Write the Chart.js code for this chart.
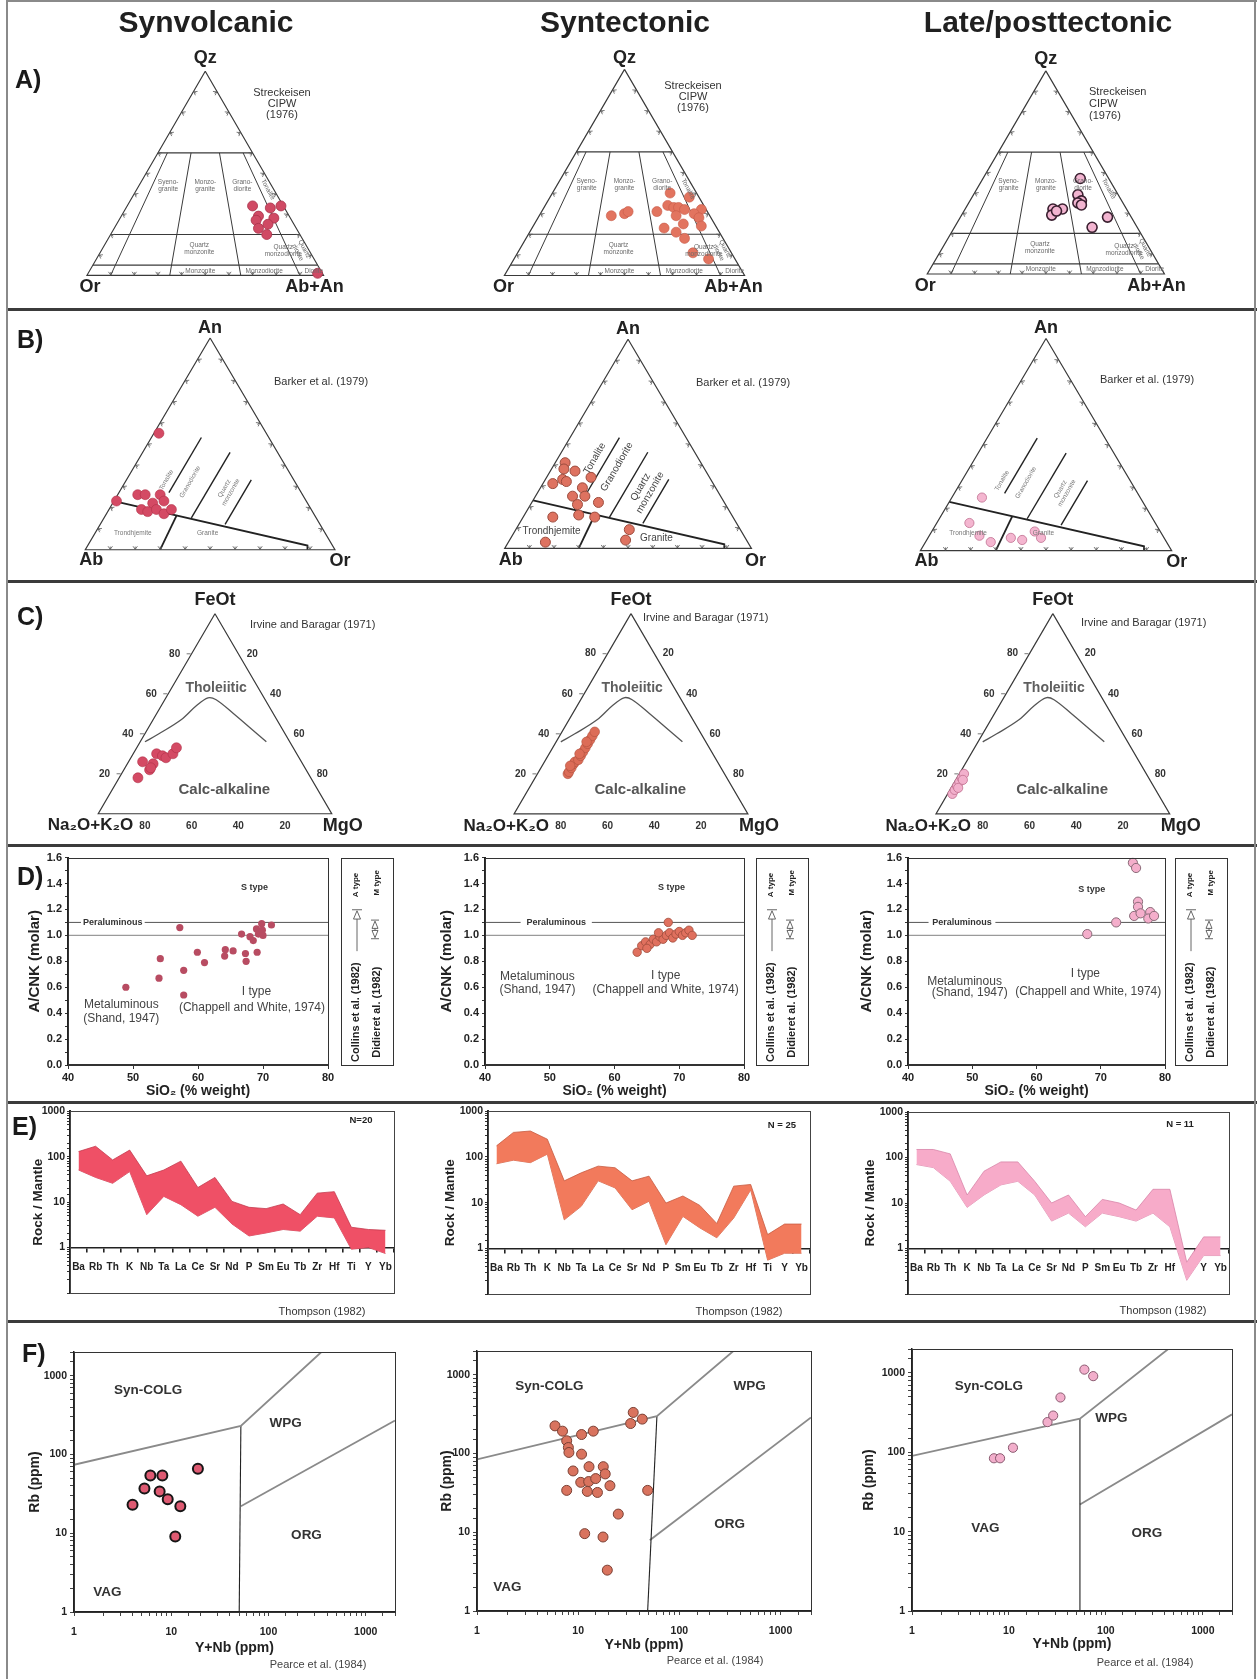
<!DOCTYPE html>
<html>
<head>
<meta charset="utf-8">
<title>Granitoid geochemistry by emplacement stage</title>
<script src="https://cdn.jsdelivr.net/npm/chart.js@4.4.1/dist/chart.umd.min.js"></script>
<style>
  html, body { margin: 0; padding: 0; background: #fff; }
  #page { position: relative; width: 1257px; height: 1679px; overflow: hidden; background: #fff;
          font-family: "Liberation Sans", Arial, Helvetica, sans-serif; color: #1e1e1e; }
  #page canvas { position: absolute; }
  .title { position: absolute; top: 7px; line-height: 30px; font-size: 30px; font-weight: bold;
           transform: translateX(-50%); white-space: nowrap; color: #202020; }
  .rowlab { position: absolute; line-height: 25px; font-size: 25px; font-weight: bold; color: #1a1a1a; }
  .rule { position: absolute; background: #3b3b3b; }
</style>
</head>
<body>
<div id="page"></div>
<script>
const FONT = '"Liberation Sans", Arial, Helvetica, sans-serif';
const SQ3 = Math.sqrt(3) / 2;

/* ================= sample data ================= */
// Streckeisen QAP (CIPW norm): [Qz, Or, Ab+An] in %
const qapSynvolcanic = [[34,13,53],[33,6,61],[34,1,65],[29,13,58],[28,7,65],[27,15,58],[25,11,64],[23,16,61],[20,14,66],[1,2,97]];
const qapSyntectonic = [[40,11,49],[38,4,58],[29,41,30],[30,35,35],[31,33,36],[31,21,48],[34,15,51],[33,13,54],[33,11,56],[32,9,59],[32,2,66],[29,14,57],[30,6,64],[28,5,67],[25,13,62],[24,6,70],[23,22,55],[21,18,61],[18,16,66],[11,16,73],[8,11,81]];
const qapLate = [[47,12,41],[39,17,44],[36,17,47],[35,19,46],[34,18,48],[32,31,37],[32,27,41],[29,33,38],[28,10,62],[23,19,58],[31,30,39]];

// Normative feldspar (Barker): [An, Ab, Or] in %
const barkerSynvolcanic = [[55,43,2],[23,76,1],[26,66,8],[26,63,11],[26,57,17],[23,57,20],[22,62,16],[19,68,13],[18,66,16],[19,62,19],[17,60,23],[19,56,25]];
const barkerSyntectonic = [[41,55,4],[38,57,5],[37,53,10],[31,65,4],[33,60,7],[32,59,9],[34,48,18],[29,54,17],[25,60,15],[25,55,20],[21,60,19],[22,51,27],[16,62,22],[15,56,29],[15,73,12],[9,45,46],[3,82,15],[4,49,47]];
const barkerLate = [[25,63,12],[13,74,13],[7,73,20],[4,70,26],[6,61,33],[5,57,38],[6,49,45],[9,50,41]];

// AFM: [FeOt, Na2O+K2O, MgO] in %
const afmSynvolcanic = [[18,74,8],[26,68,6],[22,67,11],[25,64,11],[30,60,10],[29,58,13],[28,57,15],[30,53,17],[33,50,17],[23,66,11]];
const afmSyntectonic = [[20,67,13],[21,66,13],[23,64,13],[25,62,13],[26,61,13],[27,59,14],[29,57,14],[31,55,14],[33,53,14],[35,51,14],[37,49,14],[39,47,14],[41,45,14],[24,64,12],[30,57,13],[36,51,13]];
const afmLate = [[10,88,2],[12,86,2],[14,84,2],[16,82,2],[18,80,2],[20,78,2],[13,84,3],[17,80,3]];

// A/CNK (molar) against SiO2 (wt %)
const sio2Synvolcanic = [48.9,54.0,54.2,57.2,57.8,57.8,59.9,61.0,64.1,64.2,65.4,66.7,67.3,67.4,68.0,68.5,69.1,69.0,69.3,69.8,69.9,70.0,71.3];
const acnkSynvolcanic = [0.60,0.67,0.82,1.06,0.73,0.54,0.87,0.79,0.84,0.89,0.88,1.01,0.86,0.80,0.99,0.96,0.87,1.05,1.01,1.09,1.04,1.00,1.08];
const sio2Syntectonic = [63.5,64.2,64.8,65.5,66.0,66.5,67.0,67.5,68.0,68.3,68.5,69.0,69.5,70.0,70.5,71.0,71.5,72.0,65.0,66.8];
const acnkSyntectonic = [0.87,0.92,0.95,0.93,0.97,0.95,0.99,0.97,1.00,1.10,1.02,0.98,1.01,1.03,1.00,1.02,1.04,1.00,0.90,1.02];
const sio2Late = [75.0,75.5,67.9,72.4,75.2,75.8,75.8,76.2,77.7,77.4,78.3];
const acnkLate = [1.56,1.52,1.01,1.10,1.15,1.26,1.22,1.17,1.18,1.13,1.15];

// Mantle-normalised multi-element envelopes (Thompson 1982 order)
const spiderElements = ['Ba','Rb','Th','K','Nb','Ta','La','Ce','Sr','Nd','P','Sm','Eu','Tb','Zr','Hf','Ti','Y','Yb'];
const spiderSynvolcanicMax = [130,170,85,140,38,51,80,21,35,10.4,7.7,7.2,9.1,5.3,15.8,17,2.8,2.5,2.4];
const spiderSynvolcanicMin = [51,35,26,47,5.3,13.4,8.8,4.9,7.7,3.3,1.8,2.1,2.5,2.3,4.9,4.5,0.92,1.0,0.74];
const spiderSyntectonicMax = [175,345,370,245,30,45,63,58,30,38,9.8,14,8.7,3.5,23,25,2.0,3.4,3.4];
const spiderSyntectonicMin = [71,85,75,115,4.2,8.3,30,21,7.0,10.7,1.2,5.0,2.8,1.7,4.6,19,0.55,0.78,0.78];
const spiderLateMax = [150,150,120,15,50,80,80,30,10,15,5,12,10,7,20,20,0.5,1.8,1.8];
const spiderLateMin = [70,60,30,8,15,25,30,15,4,6,3,6,5,4,6,3,0.2,0.7,0.7];

// Rb against Y+Nb (ppm)
const ynbSynvolcanic = [4.0,5.3,6.1,8.1,7.6,9.2,12.4,11,18.8];
const rbSynvolcanic = [23,37,54,54,34,27,22,9.1,66];
const ynbSyntectonic = [5.9,7.0,7.7,8.0,8.1,10.8,14.1,10.8,8.9,12.8,10.6,12.7,14.9,17.7,18.5,20.6,7.7,12.3,15.5,24.9,11.6,17.6,19.4,35,33,43,48.6];
const rbSyntectonic = [224,192,145,119,103,174,192,98,60,68,43,44,48,68,55,39,34,33,32,17,9.6,8.7,3.3,332,240,273,34];
const ynbLate = [7.0,8.1,11,25,28.6,34,60,74];
const rbLate = [84,84,114,240,290,490,1100,910];

/* ================= classification boundaries ================= */
const qapLevels = [60, 20, 5];          // Qz levels of horizontal boundaries
const qapRatios = [10, 35, 65, 90];     // 100*P/(A+P) boundaries
const barkerBoundaries = [
  [[23,77,0],[2,10,88],[0,11,89]],
  [[0,70,30],[16,55.5,28.5]],
  [[27,53,20],[53,27,20]],
  [[15,50,35],[46,19,35]],
  [[12,38,50],[33,17,50]]
];
const irvineBaragarCurve = [[36,62,2],[40,54,6],[47,41,12],[54,31,15],[58,24,18],[57,21,22],[50,17,33],[42,13,45],[36,10,54]];
const pearceBoundaries = [
  {colg: [[1,74],[52,230],[350,2000]], vag: [[52,230],[50,1]], org: [[52,22],[2000,270]]},
  {colg: [[1,84],[60,297],[342,2000]], vag: [[60,297],[48.6,1]], org: [[51,7.9],[2000,287]]},
  {colg: [[1,90],[54,265],[440,2000]], vag: [[54,265],[54,1]], org: [[54,22],[2000,300]]}
];

/* ================= helpers ================= */
Chart.defaults.font.family = FONT;
Chart.defaults.color = '#222';
const page = document.getElementById('page');
const f = (size, bold) => (bold ? 'bold ' : '') + size + 'px ' + FONT;

const COLS = [{x: 8, w: 412}, {x: 420, w: 420}, {x: 840, w: 414}];
const ROWS = {A: [36, 270], B: [312, 267], C: [584, 259], D: [848, 252], E: [1103, 217], F: [1324, 355]};
function cellOf(row, col) { return {x: COLS[col].x, w: COLS[col].w, y: ROWS[row][0], h: ROWS[row][1]}; }
function makeCanvas(c) {
  const cv = document.createElement('canvas');
  cv.width = c.w; cv.height = c.h;
  cv.style.left = c.x + 'px'; cv.style.top = c.y + 'px';
  page.appendChild(cv);
  return cv;
}
function tern(p) {
  const s = p[0] + p[1] + p[2];
  const t = p[0] / s, r = p[2] / s;
  return {x: r + t / 2, y: t * SQ3};
}
function ternPix(chart, p) {
  const q = tern(p);
  return [chart.scales.x.getPixelForValue(q.x), chart.scales.y.getPixelForValue(q.y)];
}
function drawLabel(ctx, chart, t, o) {
  let X, Y;
  if (t.tern) { [X, Y] = ternPix(chart, t.tern); }
  else if (t.data) { X = chart.scales.x.getPixelForValue(t.data[0]); Y = chart.scales.y.getPixelForValue(t.data[1]); }
  else { X = t.page[0] - o.origin[0]; Y = t.page[1] - o.origin[1]; }
  X += t.dx || 0; Y += t.dy || 0;
  ctx.save();
  ctx.font = t.font; ctx.fillStyle = t.color || '#222';
  ctx.textAlign = t.align || 'center'; ctx.textBaseline = 'middle';
  ctx.translate(X, Y);
  if (t.rot) ctx.rotate(t.rot * Math.PI / 180);
  const lines = t.text.split('\n');
  const lh = t.lh || 10;
  lines.forEach((ln, i) => ctx.fillText(ln, 0, (i - (lines.length - 1) / 2) * lh));
  ctx.restore();
}
const annotate = {
  id: 'annotate',
  afterDatasetsDraw(chart, args, o) {
    const ctx = chart.ctx;
    if (o.over) { ctx.save(); o.over(ctx, chart); ctx.restore(); }
    (o.texts || []).forEach(t => drawLabel(ctx, chart, t, o));
  }
};
function baseOpts(extra) {
  return {
    responsive: false, animation: false, events: [],
    layout: extra.layout || {padding: 0},
    scales: extra.scales,
    plugins: {legend: {display: false}, tooltip: {enabled: false}, annotate: extra.annotate}
  };
}
function frame(ctx, chart, color, w) {
  const a = chart.chartArea;
  ctx.strokeStyle = color || '#333'; ctx.lineWidth = w || 1;
  ctx.strokeRect(Math.round(a.left) + 0.5, Math.round(a.top) + 0.5, Math.round(a.right - a.left), Math.round(a.bottom - a.top));
}
// chevron marks every tenth along triangle edges
function edgeMarks(ctx, chart, edges, m) {
  const V = {top: ternPix(chart, [100,0,0]), left: ternPix(chart, [0,100,0]), right: ternPix(chart, [0,0,100])};
  const cx = (V.top[0] + V.left[0] + V.right[0]) / 3, cy = (V.top[1] + V.left[1] + V.right[1]) / 3;
  ctx.strokeStyle = m.color || '#444'; ctx.lineWidth = m.lw || 0.8;
  edges.forEach(([a, b]) => {
    const A = V[a], B = V[b];
    const dx = B[0] - A[0], dy = B[1] - A[1], len = Math.hypot(dx, dy);
    const tx = dx / len, ty = dy / len;
    let nx = -ty, ny = tx;
    if ((cx - (A[0] + B[0]) / 2) * nx + (cy - (A[1] + B[1]) / 2) * ny < 0) { nx = -nx; ny = -ny; }
    for (let k = 1; k < 10; k++) {
      const x = A[0] + dx * k / 10, y = A[1] + dy * k / 10;
      ctx.beginPath();
      ctx.moveTo(x + nx * m.depth + tx * m.half, y + ny * m.depth + ty * m.half);
      ctx.lineTo(x + nx * 0.4, y + ny * 0.4);
      ctx.lineTo(x + nx * m.depth - tx * m.half, y + ny * m.depth - ty * m.half);
      ctx.moveTo(x, y); ctx.lineTo(x + nx * m.depth * 0.9, y + ny * m.depth * 0.9);
      ctx.stroke();
    }
  });
}

/* ================= ternary panels ================= */
function ternaryPanel(row, col, geo, spec) {
  const c = cellOf(row, col);
  const cv = makeCanvas(c);
  const lx = geo.lx - c.x, rx = geo.rx - c.x, by = geo.by - c.y, ay = geo.ay - c.y;
  const sx = rx - lx, sy = (by - ay) / SQ3;
  const st = spec.style;
  const datasets = [{
    data: spec.samples.map(tern), showLine: false, pointRadius: st.r,
    pointBackgroundColor: st.fill, pointBorderColor: st.stroke, pointBorderWidth: st.bw
  }];
  spec.lines.forEach(l => datasets.push({
    data: l.pts.map(tern), showLine: true, pointRadius: 0, fill: false,
    borderColor: l.color || '#3a3a3a', borderWidth: l.w || 1, tension: l.tension || 0
  }));
  new Chart(cv, {
    type: 'scatter',
    data: {datasets},
    options: baseOpts({
      scales: {
        x: {type: 'linear', display: false, min: -lx / sx, max: (c.w - lx) / sx},
        y: {type: 'linear', display: false, min: (by - c.h) / sy, max: by / sy}
      },
      annotate: {origin: [c.x, c.y], texts: spec.texts, over: spec.over}
    }),
    plugins: [annotate]
  });
}
const frameLine = {pts: [[100,0,0],[0,100,0],[0,0,100],[100,0,0]], w: 1.2, color: '#3a3a3a'};

// ---- A) Streckeisen QAP ----
function qapLines() {
  const lines = [frameLine];
  qapLevels.forEach(q => lines.push({pts: [[q, 100 - q, 0], [q, 0, 100 - q]], w: 1.2}));
  qapRatios.forEach(r => lines.push({pts: [[60, 40 * (100 - r) / 100, 40 * r / 100], [0, 100 - r, r]], w: 1}));
  return lines;
}
const qapFieldNames = [
  {text: 'Syeno-\ngranite', tern: [44, 43.7, 12.3]},
  {text: 'Monzo-\ngranite', tern: [44, 28, 28]},
  {text: 'Grano-\ndiorite', tern: [44, 12.3, 43.7]},
  {text: 'Tonalite', tern: [42, 2.5, 55.5], rot: 62},
  {text: 'Quartz\nmonzonite', tern: [13, 46, 41]},
  {text: 'Quartz\nmonzodiorite', tern: [12, 11, 77]},
  {text: 'Quartz\ndiorite', tern: [12, 3.5, 84.5], rot: 62},
  {text: 'Monzonite', tern: [2.2, 51, 46.8]},
  {text: 'Monzodiorite', tern: [2.2, 24, 73.8]},
  {text: 'Diorite', tern: [2.2, 3, 94.8]}
];
function qapPanel(col, geo, samples, style, v, cite) {
  const texts = qapFieldNames.map(n => Object.assign({font: f(6.5), color: '#6a6a6a', lh: 7.5}, n));
  texts.push({text: 'Qz', tern: [100,0,0], dy: v.qz, font: f(18, true)});
  texts.push({text: 'Or', tern: [0,100,0], dx: v.or, dy: 12, font: f(18, true)});
  texts.push({text: 'Ab+An', tern: [0,0,100], dx: v.ab, dy: 12, font: f(18, true)});
  cite.lines.forEach((s, i) => texts.push({text: s, page: [cite.x, cite.y[i]], align: cite.align, font: f(11), color: '#333'}));
  ternaryPanel('A', col, geo, {
    samples, style, lines: qapLines(), texts,
    over: (ctx, ch) => edgeMarks(ctx, ch, [['top','left'],['top','right'],['left','right']], {depth: 3.5, half: 2.2, color: '#555', lw: 0.8})
  });
}
qapPanel(0, {lx: 83.3, rx: 326.7, by: 280, ay: 66.7}, qapSynvolcanic,
  {r: 5, fill: '#d04a64', stroke: '#a8324a', bw: 0.8}, {qz: -13, or: 3, ab: -9},
  {lines: ['Streckeisen', 'CIPW', '(1976)'], x: 282, y: [93, 104, 115], align: 'center'});
qapPanel(1, {lx: 501, rx: 747.7, by: 280, ay: 65}, qapSyntectonic,
  {r: 5, fill: '#e2745f', stroke: '#c65a48', bw: 0.6}, {qz: -11, or: -1, ab: -11},
  {lines: ['Streckeisen', 'CIPW', '(1976)'], x: 693, y: [86, 97, 108], align: 'center'});
qapPanel(2, {lx: 923.3, rx: 1168.3, by: 279.3, ay: 65.7}, qapLate,
  {r: 5, fill: '#f2b4d0', stroke: '#3a2030', bw: 1.6}, {qz: -12, or: -2, ab: -8},
  {lines: ['Streckeisen', 'CIPW', '(1976)'], x: 1089, y: [92, 104, 116], align: 'left'});

// ---- B) Barker An-Ab-Or ----
function barkerPanel(col, geo, samples, style, big, v, citeAt) {
  const lines = [frameLine].concat(barkerBoundaries.map((b, i) => ({pts: b, w: i < 2 ? 1.8 : 1.4, color: '#222'})));
  const fs = big ? f(10) : f(6.5), fc = big ? '#444' : '#777', lh = big ? 11 : 7.5;
  const fieldPos = big
    ? [[43,42,15],[39,35,26],[28,29,43],[8,77,15],[5,36,59]]
    : [[33,51,16],[32,42,26],[28,29,43],[8,77,15],[8,47,45]];
  const names = ['Tonalite', 'Granodiorite', 'Quartz\nmonzonite', 'Trondhjemite', 'Granite'];
  const texts = names.map((n, i) => ({text: n, tern: fieldPos[i], rot: i < 3 ? -60 : 0, font: fs, color: fc, lh}));
  texts.push({text: 'An', tern: [100,0,0], dy: -10, font: f(18, true)});
  texts.push({text: 'Ab', tern: [0,100,0], dx: 6, dy: v.ab, font: f(18, true)});
  texts.push({text: 'Or', tern: [0,0,100], dx: v.orx, dy: v.or, font: f(18, true)});
  texts.push({text: 'Barker et al. (1979)', page: citeAt, font: f(11), color: '#333'});
  ternaryPanel('B', col, geo, {
    samples, style, lines, texts,
    over: (ctx, ch) => edgeMarks(ctx, ch, [['top','left'],['top','right'],['left','right']], {depth: 3.5, half: 2.2, color: '#555', lw: 0.8})
  });
}
barkerPanel(0, {lx: 81.7, rx: 338.3, by: 554.3, ay: 333.3}, barkerSynvolcanic,
  {r: 5, fill: '#d44a64', stroke: '#b03048', bw: 0.6}, false, {ab: 10, or: 11, orx: 5}, [321, 382]);
barkerPanel(1, {lx: 501, rx: 755, by: 553.3, ay: 334.3}, barkerSyntectonic,
  {r: 5, fill: '#de7260', stroke: '#9c4c3e', bw: 1}, true, {ab: 12, or: 13, orx: 4}, [743, 383]);
barkerPanel(2, {lx: 917, rx: 1175, by: 555, ay: 334}, barkerLate,
  {r: 4.6, fill: '#f4b6d0', stroke: '#c07090', bw: 0.8}, false, {ab: 10, or: 11, orx: 5}, [1147, 380]);

// ---- C) AFM ----
function afmPanel(col, geo, samples, style, citeAt) {
  const lines = [frameLine, {pts: irvineBaragarCurve, w: 1.3, color: '#555', tension: 0.35}];
  const texts = [
    {text: 'Tholeiitic', tern: [63, 18, 19], font: f(14, true), color: '#5e5e5e'},
    {text: 'Calc-alkaline', tern: [12, 40, 48], font: f(15, true), color: '#555'},
    {text: 'FeOt', tern: [100,0,0], dy: -14, font: f(18, true)},
    {text: 'Na₂O+K₂O', tern: [0,100,0], dx: 35, dy: 12, align: 'right', font: f(17, true)},
    {text: 'MgO', tern: [0,0,100], dx: 11, dy: 12, font: f(18, true)},
    {text: 'Irvine and Baragar (1971)', page: citeAt, align: 'left', font: f(11), color: '#333'}
  ];
  [20, 40, 60, 80].forEach(v => {
    texts.push({text: String(v), tern: [v, 100 - v, 0], dx: -17, font: f(10, true), color: '#333'});
    texts.push({text: String(100 - v), tern: [v, 0, 100 - v], dx: 14, font: f(10, true), color: '#333'});
    texts.push({text: String(100 - v), tern: [0, 100 - v, v], dy: 12, font: f(10, true), color: '#333'});
  });
  ternaryPanel('C', col, geo, {
    samples, style, lines, texts,
    over: (ctx, ch) => {
      ctx.strokeStyle = '#555'; ctx.lineWidth = 0.8;
      [20, 40, 60, 80].forEach(v => {
        const [x, y] = ternPix(ch, [v, 100 - v, 0]);
        ctx.beginPath(); ctx.moveTo(x - 1, y); ctx.lineTo(x - 5, y); ctx.stroke();
      });
    }
  });
}
afmPanel(0, {lx: 95, rx: 335, by: 818.3, ay: 609.3}, afmSynvolcanic, {r: 5, fill: '#d44a64', stroke: '#b03048', bw: 0.6}, [250, 625]);
afmPanel(1, {lx: 511, rx: 751, by: 818.3, ay: 609.3}, afmSyntectonic, {r: 4.8, fill: '#dc6c57', stroke: '#b0503e', bw: 0.6}, [643, 618]);
afmPanel(2, {lx: 933, rx: 1173, by: 818.3, ay: 609.3}, afmLate, {r: 4.6, fill: '#f2b0cc', stroke: '#c0708f', bw: 0.8}, [1081, 623]);

/* ================= D) A/CNK vs SiO2 ================= */
function rotText(ctx, s, x, y, font) {
  ctx.save(); ctx.font = font; ctx.fillStyle = '#222'; ctx.textAlign = 'center'; ctx.textBaseline = 'middle';
  ctx.translate(x, y); ctx.rotate(-Math.PI / 2); ctx.fillText(s, 0, 0); ctx.restore();
}
function tri(ctx, x, y, w, h, up) {
  ctx.beginPath();
  if (up) { ctx.moveTo(x, y); ctx.lineTo(x - w / 2, y + h); ctx.lineTo(x + w / 2, y + h); }
  else { ctx.moveTo(x, y + h); ctx.lineTo(x - w / 2, y); ctx.lineTo(x + w / 2, y); }
  ctx.closePath(); ctx.stroke();
}
function typeBox(ctx, chart, gap, w) {
  const a = chart.chartArea;
  const L = Math.round(a.right + gap), T = Math.round(a.top), B = Math.round(a.bottom), h = B - T;
  ctx.strokeStyle = '#333'; ctx.lineWidth = 1;
  ctx.strokeRect(L + 0.5, T + 0.5, w, h);
  rotText(ctx, 'Collins et al. (1982)', L + 15, T + 0.745 * h, f(11, true));
  rotText(ctx, 'Didieret al. (1982)', L + 36, T + 0.745 * h, f(11, true));
  rotText(ctx, 'A type', L + 15, T + 0.13 * h, f(8, true));
  rotText(ctx, 'M type', L + 36, T + 0.12 * h, f(8, true));
  ctx.strokeStyle = '#555'; ctx.lineWidth = 0.9;
  const ax = L + 16;
  ctx.beginPath(); ctx.moveTo(ax - 5, T + 0.25 * h); ctx.lineTo(ax + 5, T + 0.25 * h); ctx.stroke();
  tri(ctx, ax, T + 0.255 * h, 7, 0.04 * h, true);
  ctx.beginPath(); ctx.moveTo(ax, T + 0.295 * h); ctx.lineTo(ax, T + 0.45 * h); ctx.stroke();
  const mx = L + 34;
  ctx.beginPath(); ctx.moveTo(mx - 4, T + 0.3 * h); ctx.lineTo(mx + 4, T + 0.3 * h); ctx.stroke();
  tri(ctx, mx, T + 0.305 * h, 6, 0.035 * h, true);
  tri(ctx, mx, T + 0.35 * h, 6, 0.035 * h, false);
  ctx.beginPath(); ctx.moveTo(mx - 4, T + 0.39 * h); ctx.lineTo(mx + 4, T + 0.39 * h);
  ctx.moveTo(mx, T + 0.34 * h); ctx.lineTo(mx, T + 0.35 * h); ctx.stroke();
}
function acnkPanel(col, area, spec) {
  const c = cellOf('D', col);
  const cv = makeCanvas(c);
  const L = area[0] - c.x, R = area[1] - c.x, T = area[2] - c.y, B = area[3] - c.y;
  const st = spec.style;
  const lineDs = (pts, color, w) => ({data: pts, showLine: true, pointRadius: 0, borderColor: color, borderWidth: w, fill: false});
  const lab = spec.labels;
  const texts = [
    {text: 'Peraluminous', data: [(spec.gap[0] + spec.gap[1]) / 2, 1.1], font: f(9, true), color: '#333'},
    {text: 'S type', data: lab.s, font: f(9, true), color: '#333'},
    {text: 'I type', data: lab.i, font: f(12), color: '#444'},
    {text: '(Chappell and White, 1974)', data: lab.cw, font: f(12), color: '#444'},
    {text: 'Metaluminous', data: lab.m, font: f(12), color: '#444'},
    {text: '(Shand, 1947)', data: lab.sh, font: f(12), color: '#444'}
  ];
  new Chart(cv, {
    type: 'scatter',
    data: {datasets: [
      {data: spec.x.map((v, i) => ({x: v, y: spec.y[i]})), pointRadius: st.r,
       pointBackgroundColor: st.fill, pointBorderColor: st.stroke, pointBorderWidth: st.bw},
      lineDs([{x: 40, y: 1}, {x: 80, y: 1}], '#9a9a9a', 1.2),
      lineDs([{x: 40, y: 1.1}, {x: spec.gap[0], y: 1.1}], '#555', 1),
      lineDs([{x: spec.gap[1], y: 1.1}, {x: 80, y: 1.1}], '#555', 1)
    ]},
    options: baseOpts({
      layout: {padding: {left: 0, top: T, right: c.w - R, bottom: 0}},
      scales: {
        x: {type: 'linear', min: 40, max: 80, afterFit: s => { s.height = c.h - B; },
            ticks: {stepSize: 10, font: {size: 11, weight: 'bold'}, color: '#222', padding: 2},
            grid: {drawOnChartArea: false, tickLength: 4, color: '#333'},
            border: {color: '#333', width: 1.5},
            title: {display: true, text: 'SiO₂ (% weight)', font: {size: 14, weight: 'bold'}, color: '#222', padding: {top: 0, bottom: 0}}},
        y: {type: 'linear', min: 0, max: 1.6, afterFit: s => { s.width = L; },
            ticks: {stepSize: 0.1, autoSkip: false, font: {size: 11, weight: 'bold'}, color: '#222', padding: 3,
                    callback: v => (Math.round(v * 10) % 2 === 0 ? v.toFixed(1) : '')},
            grid: {drawOnChartArea: false, tickLength: 3, color: '#333'},
            border: {color: '#222', width: 2},
            title: {display: true, text: 'A/CNK (molar)', font: {size: 15, weight: 'bold'}, color: '#222', padding: {top: 18, bottom: 0}}}
      },
      annotate: {origin: [c.x, c.y], texts, over: (ctx, ch) => { frame(ctx, ch, '#333', 1); typeBox(ctx, ch, spec.box[0], spec.box[1]); }}
    }),
    plugins: [annotate]
  });
}
acnkPanel(0, [68, 328, 855, 1065], {
  x: sio2Synvolcanic, y: acnkSynvolcanic, style: {r: 3.6, fill: '#b84c62', stroke: '#b84c62', bw: 0},
  gap: [42, 51.8], box: [13, 52],
  labels: {s: [68.7, 1.37], i: [69, 0.565], cw: [68.3, 0.44], m: [48.2, 0.462], sh: [48.2, 0.356]}
});
acnkPanel(1, [485, 744, 857, 1065], {
  x: sio2Syntectonic, y: acnkSyntectonic, style: {r: 4.2, fill: '#e0705e', stroke: '#a04c3c', bw: 0.8},
  gap: [45.5, 56.5], box: [12, 52],
  labels: {s: [68.8, 1.37], i: [67.9, 0.69], cw: [67.9, 0.58], m: [48.1, 0.68], sh: [48.1, 0.58]}
});
acnkPanel(2, [908, 1165, 857, 1065], {
  x: sio2Late, y: acnkLate, style: {r: 4.6, fill: '#f4aecb', stroke: '#8a6a78', bw: 1},
  gap: [43.2, 53.6], box: [10, 52],
  labels: {s: [68.6, 1.357], i: [67.6, 0.704], cw: [68.05, 0.563], m: [48.8, 0.64], sh: [49.6, 0.558]}
});

/* ================= E) spider diagrams ================= */
const isDecade = v => { const lg = Math.log10(v); return Math.abs(lg - Math.round(lg)) < 1e-6; };
function spiderPanel(col, area, spec) {
  const c = cellOf('E', col);
  const cv = makeCanvas(c);
  const L = area[0] - c.x, R = area[1] - c.x, T = area[2] - c.y, B = area[3] - c.y;
  new Chart(cv, {
    type: 'line',
    data: {labels: spiderElements, datasets: [
      {data: spec.max, fill: '+1', backgroundColor: spec.fill, borderColor: spec.edge, borderWidth: 0.8, pointRadius: 0, tension: 0},
      {data: spec.min, fill: false, borderColor: spec.edge, borderWidth: 0.8, pointRadius: 0, tension: 0}
    ]},
    options: baseOpts({
      layout: {padding: {left: 0, top: T, right: c.w - R, bottom: c.h - B}},
      scales: {
        x: {type: 'category', offset: true, position: {y: 1},
            grid: {offset: true, drawOnChartArea: false, tickLength: 4, color: '#222', lineWidth: 1.6},
            border: {display: true, color: '#222', width: 1.4},
            ticks: {autoSkip: false, maxRotation: 0, font: {size: 10, weight: 'bold'}, color: '#222', padding: 10}},
        y: {type: 'logarithmic', min: 0.1, max: 1000, afterFit: s => { s.width = L; },
            ticks: {autoSkip: false, font: {size: 10.5, weight: 'bold'}, color: '#222', padding: 2,
                    callback: v => (v >= 1 && isDecade(v) ? String(Math.round(v)) : '')},
            grid: {drawOnChartArea: false, tickLength: 3, color: '#333'},
            border: {color: '#222', width: 2},
            title: {display: true, text: 'Rock / Mantle', font: {size: 13.5, weight: 'bold'}, color: '#222', padding: {top: 22, bottom: 0}}}
      },
      annotate: {origin: [c.x, c.y], over: (ctx, ch) => frame(ctx, ch, '#444', 1),
        texts: [
          {text: spec.n, page: spec.nAt, font: f(9.5, true), color: '#222'},
          {text: 'Thompson (1982)', page: spec.citeAt, font: f(11), color: '#333'}
        ]}
    }),
    plugins: [annotate]
  });
}
spiderPanel(0, [70, 394, 1110, 1293], {max: spiderSynvolcanicMax, min: spiderSynvolcanicMin, fill: '#ef5066', edge: '#c43a4e', n: 'N=20', nAt: [361, 1120], citeAt: [322, 1312]});
spiderPanel(1, [488, 810, 1110, 1294], {max: spiderSyntectonicMax, min: spiderSyntectonicMin, fill: '#f27a5c', edge: '#c65a40', n: 'N = 25', nAt: [782, 1125], citeAt: [739, 1312]});
spiderPanel(2, [908, 1229, 1112, 1294], {max: spiderLateMax, min: spiderLateMin, fill: '#f7abc9', edge: '#d884a8', n: 'N = 11', nAt: [1180, 1124], citeAt: [1163, 1311]});

/* ================= F) Pearce discrimination ================= */
function pearcePanel(col, area, spec) {
  const c = cellOf('F', col);
  const cv = makeCanvas(c);
  const L = area[0] - c.x, R = area[1] - c.x, T = area[2] - c.y, B = area[3] - c.y;
  const st = spec.style, bd = spec.bounds;
  const pts = a => a.map(p => ({x: p[0], y: p[1]}));
  const lineDs = (a, color, w) => ({data: pts(a), showLine: true, pointRadius: 0, borderColor: color, borderWidth: w, fill: false});
  const logAxis = (extra) => Object.assign({
    type: 'logarithmic', min: 1, max: 2000,
    ticks: {autoSkip: false, maxRotation: 0, font: {size: 10.5, weight: 'bold'}, color: '#222',
            callback: v => (isDecade(v) ? String(Math.round(v)) : '')},
    grid: {drawOnChartArea: false, tickLength: 4, color: '#444'},
    border: {color: '#222', width: 1.5}
  }, extra);
  const texts = [
    {text: 'Syn-COLG', data: spec.lab.colg, font: f(13.5, true), color: '#333'},
    {text: 'WPG', data: spec.lab.wpg, font: f(13.5, true), color: '#333'},
    {text: 'ORG', data: spec.lab.org, font: f(13.5, true), color: '#333'},
    {text: 'VAG', data: spec.lab.vag, font: f(13.5, true), color: '#333'},
    {text: 'Pearce et al. (1984)', page: spec.citeAt, font: f(11), color: '#444'}
  ];
  new Chart(cv, {
    type: 'scatter',
    data: {datasets: [
      {data: spec.x.map((v, i) => ({x: v, y: spec.y[i]})), pointRadius: st.r,
       pointBackgroundColor: st.fill, pointBorderColor: st.stroke, pointBorderWidth: st.bw},
      lineDs(bd.colg, '#8a8a8a', 1.8),
      lineDs(bd.vag, '#222', 1.1),
      lineDs(bd.org, '#8a8a8a', 1.8)
    ]},
    options: baseOpts({
      layout: {padding: {left: 0, top: T, right: c.w - R, bottom: 0}},
      scales: {
        x: logAxis({afterFit: s => { s.height = c.h - B; },
          ticks: Object.assign({}, logAxis({}).ticks, {padding: 10}),
          title: {display: true, text: 'Y+Nb (ppm)', font: {size: 14, weight: 'bold'}, color: '#222', padding: {top: 0, bottom: spec.xTitlePad}}}),
        y: logAxis({afterFit: s => { s.width = L; },
          ticks: Object.assign({}, logAxis({}).ticks, {padding: 3}),
          title: {display: true, text: 'Rb (ppm)', font: {size: 14, weight: 'bold'}, color: '#222', padding: {top: spec.yTitlePad, bottom: 0}}})
      },
      annotate: {origin: [c.x, c.y], texts, over: (ctx, ch) => frame(ctx, ch, '#333', 1)}
    }),
    plugins: [annotate]
  });
}
pearcePanel(0, [74, 395, 1352, 1612], {
  x: ynbSynvolcanic, y: rbSynvolcanic, bounds: pearceBoundaries[0],
  style: {r: 5, fill: '#de5a72', stroke: '#151515', bw: 2},
  lab: {colg: [5.8, 645], wpg: [150, 250], org: [246, 9.4], vag: [2.2, 1.8]},
  citeAt: [318, 1665], xTitlePad: 22, yTitlePad: 19
});
pearcePanel(1, [477, 811, 1351, 1611], {
  x: ynbSyntectonic, y: rbSyntectonic, bounds: pearceBoundaries[1],
  style: {r: 5, fill: '#d9735e', stroke: '#7a4034', bw: 1},
  lab: {colg: [5.2, 720], wpg: [495, 720], org: [313, 12.6], vag: [2.0, 2.0]},
  citeAt: [715, 1661], xTitlePad: 25, yTitlePad: 19
});
pearcePanel(2, [912, 1232, 1349, 1611], {
  x: ynbLate, y: rbLate, bounds: pearceBoundaries[2],
  style: {r: 4.6, fill: '#f2aecb', stroke: '#8a5a70', bw: 1},
  lab: {colg: [6.2, 670], wpg: [114, 265], org: [265, 9.6], vag: [5.7, 11]},
  citeAt: [1145, 1663], xTitlePad: 26, yTitlePad: 21
});

/* ================= titles, row letters, rules ================= */
[['Synvolcanic', 206], ['Syntectonic', 625], ['Late/posttectonic', 1048]].forEach(([s, x]) => {
  const d = document.createElement('div'); d.className = 'title'; d.textContent = s; d.style.left = x + 'px'; page.appendChild(d);
});
[['A)', 15, 67], ['B)', 17, 327], ['C)', 17, 604], ['D)', 17, 864], ['E)', 12, 1114], ['F)', 22, 1341]].forEach(([s, x, y]) => {
  const d = document.createElement('div'); d.className = 'rowlab'; d.textContent = s;
  d.style.left = x + 'px'; d.style.top = y + 'px'; page.appendChild(d);
});
[[0, 2, '#8a8a8a'], [308, 3], [580, 3], [844, 3], [1101, 3], [1320, 3]].forEach(([y, h, col]) => {
  const d = document.createElement('div'); d.className = 'rule';
  d.style.left = '6px'; d.style.width = '1251px'; d.style.top = y + 'px'; d.style.height = h + 'px';
  if (col) d.style.background = col;
  page.appendChild(d);
});
[[6, '#8a8a8a'], [1254, '#8a8a8a']].forEach(([x, col]) => {
  const d = document.createElement('div'); d.className = 'rule';
  d.style.left = x + 'px'; d.style.width = '2px'; d.style.top = '0px'; d.style.height = '1679px'; d.style.background = col;
  page.appendChild(d);
});
</script>
</body>
</html>
